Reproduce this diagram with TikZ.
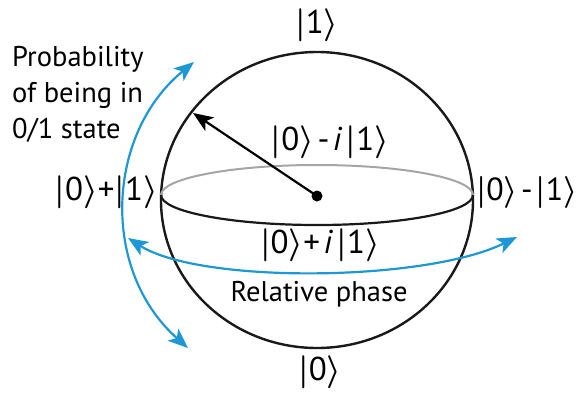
\documentclass[tikz,border=0pt]{standalone}
\usepackage{fix-cm}
\usepackage{fontspec}
\setmainfont{PT Sans}
\usetikzlibrary{arrows.meta}
\definecolor{qblue}{RGB}{30,152,212}
\definecolor{qgray}{RGB}{165,165,165}
\newcommand{\myket}[1]{{\boldmath$|$}#1{\boldmath$\rangle$}}
\newcommand{\gp}{\hspace{3.5pt}}
\begin{document}
\begin{tikzpicture}[x=1pt,y=-1pt,
  ketlbl/.style={inner sep=0pt,font=\fontsize{33}{38}\selectfont},
  txtlbl/.style={inner sep=0pt,font=\fontsize{28.5}{36}\selectfont},
  outline/.style={line width=2.4pt,black!90},
  blueline/.style={line width=2.2pt,draw=qblue,{Stealth[length=20pt,width=16pt,inset=5pt]}-{Stealth[length=20pt,width=16pt,inset=5pt]}},
  tip/.style={-{Stealth[length=20pt,width=16pt,inset=5pt]}}]
\useasboundingbox (0,0) rectangle (579,394);
% sphere
\coordinate (c) at (317,200);
\draw[outline] (c) ellipse [x radius=156, y radius=148];
% equator
\draw[line width=2pt,qgray] (161,195) arc[start angle=180,end angle=360,x radius=156,y radius=30];
\draw[line width=2.2pt,black!90] (161,195) arc[start angle=180,end angle=0,x radius=156,y radius=30];
% centre dot and state vector
\node[circle,fill=black,inner sep=0pt,minimum size=11pt] (dot) at (317,196) {};
\coordinate (vtip) at (193,113);
\draw[line width=2.2pt,tip] (dot.center) -- (vtip);
% blue arrows
\coordinate (pb) at (188,348);
\coordinate (pt) at (194,62);
\draw[blueline] (pb) .. controls (100,270) and (106,134) .. (pt);
\coordinate (hl) at (128,238);
\coordinate (hr) at (517,237);
\draw[blueline] (hl) .. controls (200,284) and (425,282) .. (hr);
% labels
\node[ketlbl] (k1) at (317,25) {\myket{1}};
\node[ketlbl] (k0) at (320,372) {\myket{0}};
\node[ketlbl] (kmi) at (330,142) {\myket{0}\gp-\gp\textit{i}\gp\myket{1}};
\node[ketlbl] (kpi) at (320,245) {\myket{0}+\gp\textit{i}\gp\myket{1}};
\node[ketlbl,anchor=east] (kp) at (158,192) {\myket{0}+\myket{1}};
\node[ketlbl,anchor=west,font=\fontsize{32}{38}\selectfont] (km) at (476,192) {\myket{0}\hspace{3pt}-\hspace{3pt}\myket{1}};
\node[txtlbl] (rel) at (319,294) {Relative phase};
\node[txtlbl,align=left,anchor=north west] (prob) at (12,46) {Probability\\of being in\\0/1 state};
\end{tikzpicture}
\end{document}
